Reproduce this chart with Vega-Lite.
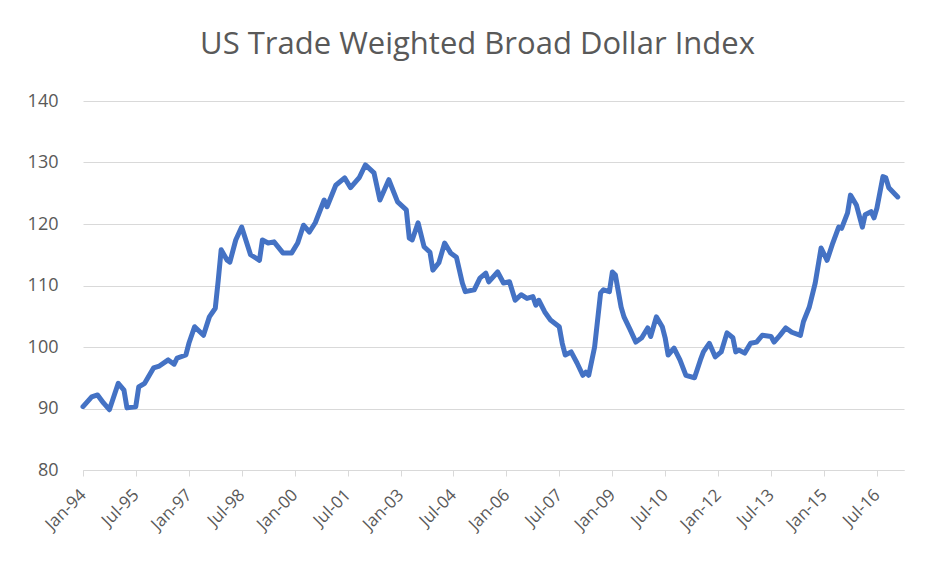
{
  "$schema": "https://vega.github.io/schema/vega-lite/v6.json",
  "width": 821,
  "height": 369,
  "autosize": {"type": "none"},
  "padding": {"left": 83, "top": 101, "right": 29, "bottom": 94},
  "background": "white",
  "title": {"text": "US Trade Weighted Broad Dollar Index", "fontSize": 31, "font": "Open Sans", "fontWeight": "normal", "color": "#595959", "anchor": "middle", "frame": "group", "dx": -16, "offset": 31},
  "config": {"view": {"stroke": null}},
  "data": {"values": [
    {"date": "1994/01/01", "value": 90.3},
    {"date": "1994/04/01", "value": 91.9},
    {"date": "1994/06/01", "value": 92.2},
    {"date": "1994/08/01", "value": 90.9},
    {"date": "1994/10/01", "value": 89.8},
    {"date": "1995/01/01", "value": 94.1},
    {"date": "1995/03/01", "value": 93.0},
    {"date": "1995/04/01", "value": 90.1},
    {"date": "1995/07/01", "value": 90.3},
    {"date": "1995/08/01", "value": 93.5},
    {"date": "1995/10/01", "value": 94.1},
    {"date": "1996/01/01", "value": 96.6},
    {"date": "1996/03/01", "value": 96.9},
    {"date": "1996/06/01", "value": 97.9},
    {"date": "1996/08/01", "value": 97.2},
    {"date": "1996/09/01", "value": 98.2},
    {"date": "1996/12/01", "value": 98.7},
    {"date": "1997/01/01", "value": 100.6},
    {"date": "1997/03/01", "value": 103.3},
    {"date": "1997/06/01", "value": 101.9},
    {"date": "1997/08/01", "value": 104.9},
    {"date": "1997/10/01", "value": 106.3},
    {"date": "1997/11/01", "value": 110.9},
    {"date": "1997/12/01", "value": 115.8},
    {"date": "1998/02/01", "value": 114.1},
    {"date": "1998/03/01", "value": 113.8},
    {"date": "1998/05/01", "value": 117.4},
    {"date": "1998/07/01", "value": 119.5},
    {"date": "1998/10/01", "value": 115.0},
    {"date": "1999/01/01", "value": 114.1},
    {"date": "1999/02/01", "value": 117.4},
    {"date": "1999/04/01", "value": 116.9},
    {"date": "1999/06/01", "value": 117.1},
    {"date": "1999/09/01", "value": 115.3},
    {"date": "1999/12/01", "value": 115.3},
    {"date": "2000/02/01", "value": 116.9},
    {"date": "2000/04/01", "value": 119.8},
    {"date": "2000/06/01", "value": 118.7},
    {"date": "2000/08/01", "value": 120.2},
    {"date": "2000/11/01", "value": 123.9},
    {"date": "2000/12/01", "value": 122.8},
    {"date": "2001/03/01", "value": 126.3},
    {"date": "2001/06/01", "value": 127.5},
    {"date": "2001/08/01", "value": 125.9},
    {"date": "2001/11/01", "value": 127.6},
    {"date": "2002/01/01", "value": 129.6},
    {"date": "2002/04/01", "value": 128.3},
    {"date": "2002/06/01", "value": 123.9},
    {"date": "2002/09/01", "value": 127.2},
    {"date": "2002/12/01", "value": 123.6},
    {"date": "2003/03/01", "value": 122.3},
    {"date": "2003/04/01", "value": 117.7},
    {"date": "2003/05/01", "value": 117.4},
    {"date": "2003/07/01", "value": 120.2},
    {"date": "2003/09/01", "value": 116.3},
    {"date": "2003/11/01", "value": 115.4},
    {"date": "2003/12/01", "value": 112.5},
    {"date": "2004/02/01", "value": 113.7},
    {"date": "2004/04/01", "value": 116.9},
    {"date": "2004/06/01", "value": 115.3},
    {"date": "2004/08/01", "value": 114.6},
    {"date": "2004/10/01", "value": 110.4},
    {"date": "2004/11/01", "value": 109.0},
    {"date": "2005/02/01", "value": 109.3},
    {"date": "2005/04/01", "value": 111.2},
    {"date": "2005/06/01", "value": 112.0},
    {"date": "2005/07/01", "value": 110.6},
    {"date": "2005/10/01", "value": 112.2},
    {"date": "2005/12/01", "value": 110.4},
    {"date": "2006/02/01", "value": 110.6},
    {"date": "2006/04/01", "value": 107.6},
    {"date": "2006/06/01", "value": 108.5},
    {"date": "2006/08/01", "value": 107.9},
    {"date": "2006/10/01", "value": 108.2},
    {"date": "2006/11/01", "value": 106.8},
    {"date": "2006/12/01", "value": 107.6},
    {"date": "2007/02/01", "value": 105.7},
    {"date": "2007/04/01", "value": 104.4},
    {"date": "2007/07/01", "value": 103.3},
    {"date": "2007/08/01", "value": 100.6},
    {"date": "2007/09/01", "value": 98.7},
    {"date": "2007/11/01", "value": 99.2},
    {"date": "2008/01/01", "value": 97.4},
    {"date": "2008/03/01", "value": 95.4},
    {"date": "2008/04/01", "value": 95.9},
    {"date": "2008/05/01", "value": 95.4},
    {"date": "2008/07/01", "value": 100.0},
    {"date": "2008/09/01", "value": 108.8},
    {"date": "2008/10/01", "value": 109.3},
    {"date": "2008/12/01", "value": 109.0},
    {"date": "2009/01/01", "value": 112.2},
    {"date": "2009/02/01", "value": 111.7},
    {"date": "2009/04/01", "value": 106.5},
    {"date": "2009/05/01", "value": 104.9},
    {"date": "2009/07/01", "value": 102.9},
    {"date": "2009/09/01", "value": 100.8},
    {"date": "2009/11/01", "value": 101.5},
    {"date": "2010/01/01", "value": 103.1},
    {"date": "2010/02/01", "value": 101.7},
    {"date": "2010/04/01", "value": 104.9},
    {"date": "2010/06/01", "value": 103.3},
    {"date": "2010/07/01", "value": 101.5},
    {"date": "2010/08/01", "value": 98.7},
    {"date": "2010/10/01", "value": 99.8},
    {"date": "2010/12/01", "value": 97.9},
    {"date": "2011/02/01", "value": 95.4},
    {"date": "2011/05/01", "value": 95.0},
    {"date": "2011/07/01", "value": 97.9},
    {"date": "2011/08/01", "value": 99.2},
    {"date": "2011/10/01", "value": 100.6},
    {"date": "2011/12/01", "value": 98.4},
    {"date": "2012/02/01", "value": 99.2},
    {"date": "2012/04/01", "value": 102.3},
    {"date": "2012/06/01", "value": 101.5},
    {"date": "2012/07/01", "value": 99.2},
    {"date": "2012/08/01", "value": 99.5},
    {"date": "2012/10/01", "value": 99.0},
    {"date": "2012/12/01", "value": 100.6},
    {"date": "2013/02/01", "value": 100.8},
    {"date": "2013/04/01", "value": 101.9},
    {"date": "2013/07/01", "value": 101.7},
    {"date": "2013/08/01", "value": 100.8},
    {"date": "2013/10/01", "value": 101.9},
    {"date": "2013/12/01", "value": 103.1},
    {"date": "2014/02/01", "value": 102.4},
    {"date": "2014/05/01", "value": 101.9},
    {"date": "2014/06/01", "value": 104.1},
    {"date": "2014/08/01", "value": 106.5},
    {"date": "2014/10/01", "value": 110.4},
    {"date": "2014/12/01", "value": 116.1},
    {"date": "2015/02/01", "value": 114.1},
    {"date": "2015/04/01", "value": 116.9},
    {"date": "2015/06/01", "value": 119.5},
    {"date": "2015/07/01", "value": 119.3},
    {"date": "2015/09/01", "value": 121.8},
    {"date": "2015/10/01", "value": 124.7},
    {"date": "2015/12/01", "value": 123.1},
    {"date": "2016/02/01", "value": 119.5},
    {"date": "2016/03/01", "value": 121.5},
    {"date": "2016/05/01", "value": 122.0},
    {"date": "2016/06/01", "value": 121.0},
    {"date": "2016/07/01", "value": 122.6},
    {"date": "2016/09/01", "value": 127.7},
    {"date": "2016/10/01", "value": 127.5},
    {"date": "2016/11/01", "value": 125.9},
    {"date": "2017/02/01", "value": 124.4}
  ]},
  "mark": {"type": "line", "color": "#4472C4", "strokeWidth": 5, "strokeJoin": "round", "strokeCap": "round"},
  "encoding": {
    "x": {
      "field": "date",
      "type": "temporal",
      "scale": {"domain": [{"year": 1994, "month": 1, "date": 1}, {"year": 2017, "month": 4, "date": 7}]},
      "axis": {
        "title": null,
        "format": "%b-%y",
        "values": [
          {"year": 1994, "month": 1, "date": 1},
          {"year": 1995, "month": 7, "date": 1},
          {"year": 1997, "month": 1, "date": 1},
          {"year": 1998, "month": 7, "date": 1},
          {"year": 2000, "month": 1, "date": 1},
          {"year": 2001, "month": 7, "date": 1},
          {"year": 2003, "month": 1, "date": 1},
          {"year": 2004, "month": 7, "date": 1},
          {"year": 2006, "month": 1, "date": 1},
          {"year": 2007, "month": 7, "date": 1},
          {"year": 2009, "month": 1, "date": 1},
          {"year": 2010, "month": 7, "date": 1},
          {"year": 2012, "month": 1, "date": 1},
          {"year": 2013, "month": 7, "date": 1},
          {"year": 2015, "month": 1, "date": 1},
          {"year": 2016, "month": 7, "date": 1}
        ],
        "grid": false,
        "domainColor": "#d9d9d9",
        "tickColor": "#d9d9d9",
        "tickSize": 6,
        "labelAngle": -45,
        "labelAlign": "right",
        "labelBaseline": "middle",
        "labelFont": "Open Sans",
        "labelFontSize": 17,
        "labelColor": "#595959",
        "labelPadding": 16,
        "labelFlush": false,
        "labelOverlap": false
      }
    },
    "y": {
      "field": "value",
      "type": "quantitative",
      "scale": {"domain": [80, 140], "nice": false, "zero": false},
      "axis": {
        "title": null,
        "values": [80, 90, 100, 110, 120, 130, 140],
        "grid": true,
        "gridColor": "#d9d9d9",
        "domain": false,
        "ticks": false,
        "labelFont": "Open Sans",
        "labelFontSize": 18,
        "labelColor": "#595959",
        "labelPadding": 25
      }
    }
  }
}
